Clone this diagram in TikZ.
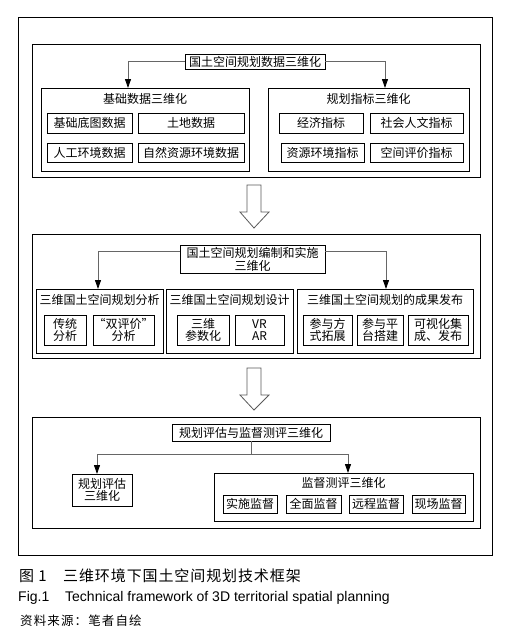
\documentclass[tikz,border=0pt]{standalone}
\usepackage{fontspec}
\setmainfont{Noto Sans CJK SC}
\newfontfamily\latinfont{Liberation Sans}
\newfontfamily\capfont[LetterSpace=6]{Noto Sans CJK SC}
\newfontfamily\srcfont[LetterSpace=9]{Noto Sans CJK SC}
\usetikzlibrary{arrows.meta}
\newcommand\fs{\fontsize{12pt}{12.8pt}\selectfont}
\newcommand\mybox[7][]{\node[bx,#1,minimum width={(#5-#3)*1pt},minimum height={(#6-#4)*1pt}] (#2) at ({(#3+#5)/2},{(#4+#6)/2}) {#7};}
\begin{document}
\begin{tikzpicture}[x=1pt,y=-1pt,
 bx/.style={draw=black, line width=0.8pt, inner sep=0pt, align=center, font=\fs},
 lbl/.style={inner sep=0pt, align=center, font=\fs},
 conn/.style={draw=black!60, line width=0.9pt, -{Triangle[width=6pt,length=9pt,color=black]}},
 plainline/.style={draw=black!60, line width=0.9pt},
 blk/.style={draw=black!65, line width=0.8pt, fill=white}]
\useasboundingbox (0,0) rectangle (515,638);
\fill[white] (0,0) rectangle (515,638);

% outer frame and sections
\mybox{outer}{18}{17}{492}{555}{}
\mybox{S1}{32}{44}{480}{177}{}
\mybox{S2}{32}{234}{480}{358}{}
\mybox{S3}{32}{417}{480}{528}{}

% ---------- section 1 ----------
\mybox{T1}{185}{54}{325}{69}{国土空间规划数据三维化}
\mybox{L1}{41}{88}{249}{171}{}
\mybox{R1}{268}{88}{469}{171}{}
\node[lbl] (L1t) at (145,99) {基础数据三维化};
\node[lbl] (R1t) at (368.5,99) {规划指标三维化};
\mybox{a1}{47}{113}{132}{133}{基础底图数据}
\mybox{a2}{138}{113}{244}{133}{土地数据}
\mybox{a3}{47}{143}{132}{162}{人工环境数据}
\mybox{a4}{138}{143}{244}{162}{自然资源环境数据}
\mybox{b1}{279}{113}{363}{133}{经济指标}
\mybox{b2}{370}{113}{463}{133}{社会人文指标}
\mybox{b3}{281}{143}{364}{162}{资源环境指标}
\mybox{b4}{370}{143}{463}{162}{空间评价指标}
\coordinate (ka) at (128,88);
\coordinate (kb) at (385,88);
\draw[conn] (T1.west) -| (ka);
\draw[conn] (T1.east) -| (kb);

% block arrow 1
\draw[blk] (247,185) -- (261,185) -- (261,212) -- (269,212) -- (254,228) -- (240,212) -- (247,212) -- cycle;

% ---------- section 2 ----------
\mybox{T2}{180}{245}{325}{273}{国土空间规划编制和实施\\三维化}
\mybox{A}{36}{289}{163}{353}{}
\mybox{B}{166}{289}{293}{353}{}
\mybox{C}{297}{289}{473}{353}{}
\node[lbl] (At) at (99.5,300) {三维国土空间规划分析};
\node[lbl] (Bt) at (229.5,300) {三维国土空间规划设计};
\node[lbl] (Ct) at (385,300) {三维国土空间规划的成果发布};
\mybox{c1}{44}{315}{86}{345}{传统\\分析}
\mybox{c2}{93}{315}{154}{345}{“双评价”\\分析}
\mybox{c3}{177}{315}{229}{345}{三维\\参数化}
\mybox{c4}{235}{315}{284}{345}{VR\\AR}
\mybox{c5}{303}{315}{352}{345}{参与方\\式拓展}
\mybox{c6}{357}{315}{403}{345}{参与平\\台搭建}
\mybox{c7}{408}{315}{468}{345}{可视化集\\成、发布}
\coordinate (kc) at (98,289);
\coordinate (kd) at (386,289);
\draw[conn] ([yshift=8pt]T2.west) -| (kc);
\draw[conn] ([yshift=8pt]T2.east) -| (kd);

% block arrow 2
\draw[blk] (247,368) -- (261,368) -- (261,395) -- (269,395) -- (254,410) -- (240,395) -- (247,395) -- cycle;

% ---------- section 3 ----------
\mybox{T3}{172}{424}{330}{441}{规划评估与监督测评三维化}
\mybox{L3}{72}{474}{132}{506}{规划评估\\三维化}
\mybox{R3}{214}{473}{473}{521}{}
\node[lbl] (R3t) at (343.5,483) {监督测评三维化};
\mybox{d1}{223}{495}{277}{513}{实施监督}
\mybox{d2}{286}{495}{341}{513}{全面监督}
\mybox{d3}{349}{495}{403}{513}{远程监督}
\mybox{d4}{412}{495}{465}{513}{现场监督}
\coordinate (jy) at (0,454);
\coordinate (ke) at (97,474);
\coordinate (kf) at (348,473);
\draw[plainline] (T3.south) -- (T3.south |- jy);
\draw[conn] (T3.south |- jy) -| (ke);
\draw[conn] (T3.south |- jy) -| (kf);

% ---------- captions ----------
\node[anchor=west, inner sep=0pt, font={\fontsize{15pt}{16pt}\capfont}] (cap1) at (19,576) {图 1};
\node[anchor=west, inner sep=0pt, font={\fontsize{15pt}{16pt}\capfont}] (cap2) at (63,576) {三维环境下国土空间规划技术框架};
\node[anchor=west, inner sep=0pt, font={\fontsize{14pt}{15pt}\latinfont}] (cap3) at (18,598) {Fig.1};
\node[anchor=west, inner sep=0pt, font={\fontsize{14pt}{15pt}\latinfont}] (cap4) at (65,598) {Technical framework of 3D territorial spatial planning};
\node[anchor=west, inner sep=0pt, font={\fontsize{12.5pt}{13pt}\srcfont}] (cap5) at (20,621) {资料来源：笔者自绘};
\end{tikzpicture}
\end{document}
